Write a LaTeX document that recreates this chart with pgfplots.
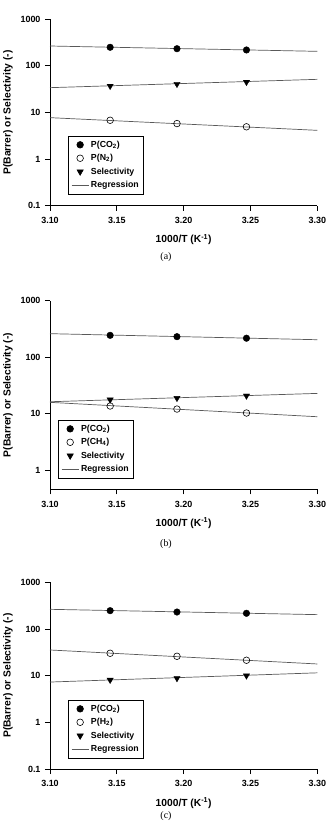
\documentclass[border=0pt]{standalone}
\usepackage{fontspec}
\setmainfont{Liberation Sans}
\newfontfamily\seriffont{Liberation Serif}
\usepackage{pgfplots}
\pgfplotsset{compat=1.18}
\pgfplotsset{
  reg/.style={no markers, color=black!65, line width=0.7bp, forget plot},
  co2/.style={only marks, mark=*, mark size=3.3bp, mark options={fill=black, draw=black}},
  gas/.style={only marks, mark=o, mark size=3.3bp, mark options={fill=white, draw=black, line width=0.6bp}},
  sel/.style={only marks, mark=triangle*, mark size=3.6bp, mark options={rotate=180, fill=black, draw=black}},
}
\begin{document}
\begin{tikzpicture}
\useasboundingbox (0,0) rectangle (335bp,-823bp);
\pgfplotsset{
  every axis/.append style={
    scale only axis,
    width=267.3bp,
    xmin=3.10, xmax=3.30,
    xtick={3.10,3.15,3.20,3.25,3.30},
    xticklabels={3.10,3.15,3.20,3.25,3.30},
    axis x line*=bottom, axis y line*=left,
    axis line style={line width=0.8bp, -},
    tick align=outside,
    major tick length=5bp,
    tick style={black, line width=0.7bp},
    yminorticks=false,
    tick label style={font=\bfseries\fontsize{9}{9}\selectfont},
    xticklabel style={yshift=-3bp},
    yticklabel style={xshift=-1bp},
    label style={font=\bfseries\fontsize{10.3}{10.3}\selectfont},
    xlabel={1000/T (K\textsuperscript{-1})},
    ylabel={P(Barrer) or Selectivity (-)},
    xlabel style={yshift=-4bp},
    ylabel style={yshift=1bp},
    legend cell align=left,
    legend style={draw=black, line width=0.6bp, font=\bfseries\fontsize{8.8}{8.8}\selectfont,
      inner xsep=3bp, inner ysep=3bp, row sep=1.6bp},
    clip=false,
  },
}
% ---------------- (a)
\begin{axis}[ymode=log, ymax=1000, at={(50bp,-205.7bp)}, anchor=south west, height=186.7bp,
  ymin=0.1, ytick={0.1,1,10,100,1000}, yticklabels={0.1,1,10,100,1000},
  legend style={at={(0.0673,0.061)}, anchor=south west}]
\addplot[reg] coordinates {(3.10,264) (3.30,203)};
\addplot[reg] coordinates {(3.10,33.8) (3.30,51)};
\addplot[reg] coordinates {(3.10,7.7) (3.30,4.12)};
\addplot[co2] coordinates {(3.145,248) (3.195,231) (3.247,217)};
\addplot[gas] coordinates {(3.145,6.77) (3.195,5.75) (3.247,4.9)};
\addplot[sel] coordinates {(3.145,36.7) (3.195,40.4) (3.247,44.6)};
\addlegendimage{no markers, color=black!65, line width=0.7bp}
\legend{P(CO\textsubscript{2}),P(N\textsubscript{2}),Selectivity,Regression}
\end{axis}
\node[font=\seriffont\fontsize{10}{10}\selectfont] at (166bp,-256.7bp) {(a)};
% ---------------- (b)
\begin{axis}[ymode=log, ymax=1000, at={(50bp,-489.3bp)}, anchor=south west, height=188.6bp,
  ymin=0.46, ytick={1,10,100,1000}, yticklabels={1,10,100,1000},
  legend style={at={(0.03,0.058)}, anchor=south west}]
\addplot[reg] coordinates {(3.10,261) (3.30,204)};
\addplot[reg] coordinates {(3.10,16.3) (3.30,22.9)};
\addplot[reg] coordinates {(3.10,15.9) (3.30,8.85)};
\addplot[co2] coordinates {(3.145,244) (3.195,231) (3.247,217)};
\addplot[gas] coordinates {(3.145,13.7) (3.195,12.1) (3.247,10.3)};
\addplot[sel] coordinates {(3.145,17.7) (3.195,18.9) (3.247,20.8)};
\addlegendimage{no markers, color=black!65, line width=0.7bp}
\legend{P(CO\textsubscript{2}),P(CH\textsubscript{4}),Selectivity,Regression}
\end{axis}
\node[font=\seriffont\fontsize{10}{10}\selectfont] at (166bp,-544bp) {(b)};
% ---------------- (c)
\begin{axis}[ymode=log, ymax=1000, at={(50bp,-769bp)}, anchor=south west, height=186.7bp,
  ymin=0.1, ytick={0.1,1,10,100,1000}, yticklabels={0.1,1,10,100,1000},
  legend style={at={(0.0673,0.057)}, anchor=south west}]
\addplot[reg] coordinates {(3.10,264) (3.30,203)};
\addplot[reg] coordinates {(3.10,35.5) (3.30,17.8)};
\addplot[reg] coordinates {(3.10,7.3) (3.30,11.5)};
\addplot[co2] coordinates {(3.145,247) (3.195,231) (3.247,217)};
\addplot[gas] coordinates {(3.145,30.2) (3.195,26.0) (3.247,21.4)};
\addplot[sel] coordinates {(3.145,8.1) (3.195,8.8) (3.247,10.0)};
\addlegendimage{no markers, color=black!65, line width=0.7bp}
\legend{P(CO\textsubscript{2}),P(H\textsubscript{2}),Selectivity,Regression}
\end{axis}
\node[font=\seriffont\fontsize{10}{10}\selectfont] at (166bp,-816bp) {(c)};
\end{tikzpicture}
\end{document}
